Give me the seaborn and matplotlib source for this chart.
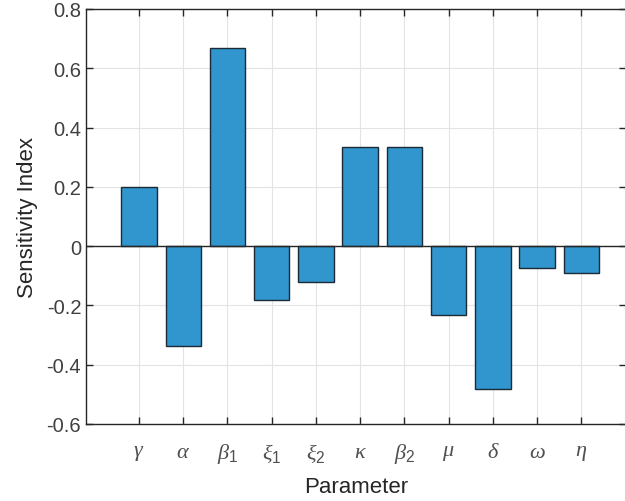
import matplotlib
matplotlib.use("Agg")
import matplotlib.pyplot as plt
import seaborn as sns
import pandas as pd

parameters = [r"$\gamma$", r"$\alpha$", r"$\beta_1$", r"$\xi_1$", r"$\xi_2$", r"$\kappa$",
              r"$\beta_2$", r"$\mu$", r"$\delta$", r"$\omega$", r"$\eta$"]
sensitivity = [0.2, -0.336, 0.667, -0.18, -0.12, 0.333, 0.333, -0.232, -0.482, -0.074, -0.09]
yticks = [-0.6, -0.4, -0.2, 0.0, 0.2, 0.4, 0.6, 0.8]
ytick_labels = ["-0.6", "-0.4", "-0.2", "0", "0.2", "0.4", "0.6", "0.8"]

sns.set_theme(style="white")
plt.rcParams["font.family"] = ["Liberation Sans", "DejaVu Sans"]
plt.rcParams["mathtext.fontset"] = "custom"
plt.rcParams["mathtext.rm"] = "Liberation Sans"
plt.rcParams["mathtext.it"] = "Liberation Serif:italic"
plt.rcParams["mathtext.cal"] = "Liberation Serif:italic"

df = pd.DataFrame({"Parameter": parameters, "Sensitivity": sensitivity})

fig = plt.figure(figsize=(6.25, 5.02), dpi=100)
ax = fig.add_axes([86 / 625, 1 - 425 / 502, (626 - 86) / 625, (425 - 10) / 502])

sns.barplot(data=df, x="Parameter", y="Sensitivity", color="#3196cd", saturation=1,
            width=0.8, edgecolor="#1c2a36", linewidth=1.0, ax=ax, zorder=3)
ax.axhline(0, color="#262626", lw=1.0, zorder=4)

ax.set_xlim(-1.198, 11.01)
ax.set_ylim(-0.6, 0.8)
ax.set_yticks(yticks)
ax.set_yticklabels(ytick_labels)

ax.grid(True, color="#e3e3e3", lw=0.8, zorder=0)
ax.set_axisbelow(True)
for s in ax.spines.values():
    s.set_color("#262626")
    s.set_linewidth(1.0)

ax.tick_params(axis="both", direction="in", length=5, width=1.0, color="#262626",
               labelcolor="#404040", labelsize=14.5, top=True, right=True, left=True, bottom=True)
ax.tick_params(axis="x", pad=12, labelsize=16, labelcolor="#505050")
ax.set_xlabel("Parameter", fontsize=16, color="#262626", labelpad=8)
ax.set_ylabel("Sensitivity Index", fontsize=16, color="#262626", labelpad=6)

fig.savefig("out.png", dpi=100)
